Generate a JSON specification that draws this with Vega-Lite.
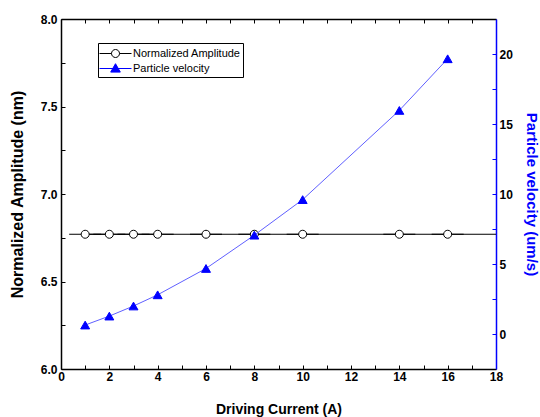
{
  "$schema": "https://vega.github.io/schema/vega-lite/v6.json",
  "width": 435,
  "height": 350,
  "autosize": {"type": "none"},
  "padding": {"left": 61, "top": 19, "right": 44, "bottom": 48},
  "background": "white",
  "config": {
    "view": {"stroke": null},
    "axis": {
      "grid": false,
      "labelFont": "Liberation Sans",
      "labelFontWeight": "bold",
      "labelFontSize": 12,
      "labelColor": "black",
      "titleFont": "Liberation Sans",
      "titleFontWeight": "bold",
      "titleFontSize": 14,
      "titleColor": "black",
      "domainColor": "black",
      "domainWidth": 1.5,
      "tickColor": "black",
      "tickWidth": 1,
      "tickSize": -4,
      "labelOverlap": false,
      "labelFlush": false
    },
    "legend": {
      "orient": "none",
      "legendX": 37,
      "legendY": 24,
      "title": null,
      "strokeColor": "black",
      "fillColor": "white",
      "padding": 2,
      "symbolSize": 256,
      "symbolOffset": 7,
      "labelOffset": 9,
      "labelFont": "Liberation Sans",
      "labelFontSize": 11,
      "labelColor": "black",
      "rowPadding": 0,
      "symbolStrokeWidth": 1
    }
  },
  "data": {
    "values": [
      {"current": 1, "series": "Normalized Amplitude", "value": 6.77},
      {"current": 2, "series": "Normalized Amplitude", "value": 6.77},
      {"current": 3, "series": "Normalized Amplitude", "value": 6.77},
      {"current": 4, "series": "Normalized Amplitude", "value": 6.77},
      {"current": 6, "series": "Normalized Amplitude", "value": 6.77},
      {"current": 8, "series": "Normalized Amplitude", "value": 6.77},
      {"current": 10, "series": "Normalized Amplitude", "value": 6.77},
      {"current": 14, "series": "Normalized Amplitude", "value": 6.77},
      {"current": 16, "series": "Normalized Amplitude", "value": 6.77},
      {"current": 18, "series": "Normalized Amplitude", "value": 6.77},
      {"current": 1, "series": "Particle velocity", "value": 0.64},
      {"current": 2, "series": "Particle velocity", "value": 1.28},
      {"current": 3, "series": "Particle velocity", "value": 2.0},
      {"current": 4, "series": "Particle velocity", "value": 2.8},
      {"current": 6, "series": "Particle velocity", "value": 4.68},
      {"current": 8, "series": "Particle velocity", "value": 7.06},
      {"current": 10, "series": "Particle velocity", "value": 9.6},
      {"current": 14, "series": "Particle velocity", "value": 15.97},
      {"current": 16, "series": "Particle velocity", "value": 19.66}
    ]
  },
  "layer": [
    {
      "transform": [{"filter": "datum.series === 'Normalized Amplitude'"}],
      "encoding": {
        "x": {
          "field": "current",
          "type": "quantitative",
          "scale": {"domain": [0, 18], "nice": false, "zero": false},
          "axis": {
            "orient": "bottom",
            "title": "Driving Current (A)",
            "values": [0, 1, 2, 3, 4, 5, 6, 7, 8, 9, 10, 11, 12, 13, 14, 15, 16, 17, 18],
            "labelExpr": "datum.value % 2 === 0 ? datum.label : ''",
            "labelPadding": 6,
            "titlePadding": 20
          }
        },
        "y": {
          "field": "value",
          "type": "quantitative",
          "scale": {"domain": [6, 8], "nice": false, "zero": false},
          "axis": {
            "orient": "left",
            "title": "Normalized Amplitude (nm)",
            "titleFontSize": 16,
            "values": [6, 6.25, 6.5, 6.75, 7, 7.25, 7.5, 7.75, 8],
            "labelExpr": "datum.value % 0.5 === 0 ? format(datum.value, '.1f') : ''",
            "labelPadding": 8,
            "titlePadding": 15
          }
        }
      },
      "layer": [
        {"mark": {"type": "line", "color": "black", "strokeWidth": 1}, "encoding": {}},
        {
          "transform": [{"filter": "datum.current < 18"}],
          "mark": {"type": "point", "filled": true, "size": 256, "strokeWidth": 1, "opacity": 1},
          "encoding": {
            "shape": {
              "field": "series",
              "type": "nominal",
              "scale": {
                "domain": ["Normalized Amplitude", "Particle velocity"],
                "range": [
                  "M-2,0H-0.5M0.5,0A0.5,0.5,0,1,0,-0.5,0A0.5,0.5,0,1,0,0.5,0M0.5,0H2",
                  "M-2,0H2M0,-0.6L0.6,0.45L-0.6,0.45Z"
                ]
              }
            },
            "fill": {
              "field": "series",
              "type": "nominal",
              "scale": {"domain": ["Normalized Amplitude", "Particle velocity"], "range": ["white", "#0000ff"]}
            },
            "stroke": {
              "field": "series",
              "type": "nominal",
              "scale": {"domain": ["Normalized Amplitude", "Particle velocity"], "range": ["black", "#0000ff"]}
            }
          }
        }
      ]
    },
    {
      "transform": [{"filter": "datum.series === 'Particle velocity'"}],
      "encoding": {
        "x": {
          "field": "current",
          "type": "quantitative",
          "scale": {"domain": [0, 18], "nice": false, "zero": false},
          "axis": {
            "orient": "top",
            "title": null,
            "labels": false,
            "values": [0, 1, 2, 3, 4, 5, 6, 7, 8, 9, 10, 11, 12, 13, 14, 15, 16, 17, 18]
          }
        },
        "y": {
          "field": "value",
          "type": "quantitative",
          "scale": {"domain": [-2.5, 22.5], "nice": false, "zero": false},
          "axis": {
            "orient": "right",
            "title": "Particle velocity (um/s)",
            "titleFontSize": 15,
            "titleColor": "#0000ff",
            "domainColor": "#0000ff",
            "tickColor": "#0000ff",
            "values": [0, 2.5, 5, 7.5, 10, 12.5, 15, 17.5, 20],
            "labelExpr": "datum.value % 5 === 0 ? datum.label : ''",
            "labelPadding": 7,
            "titlePadding": 11
          }
        }
      },
      "layer": [
        {"mark": {"type": "line", "color": "#6060ff", "strokeWidth": 1}, "encoding": {}},
        {
          "mark": {"type": "point", "shape": "triangle-up", "filled": true, "size": 80, "strokeWidth": 1, "opacity": 1},
          "encoding": {
            "fill": {"field": "series", "type": "nominal"},
            "stroke": {"field": "series", "type": "nominal"}
          }
        }
      ]
    }
  ],
  "resolve": {"scale": {"y": "independent"}, "axis": {"x": "independent"}}
}
